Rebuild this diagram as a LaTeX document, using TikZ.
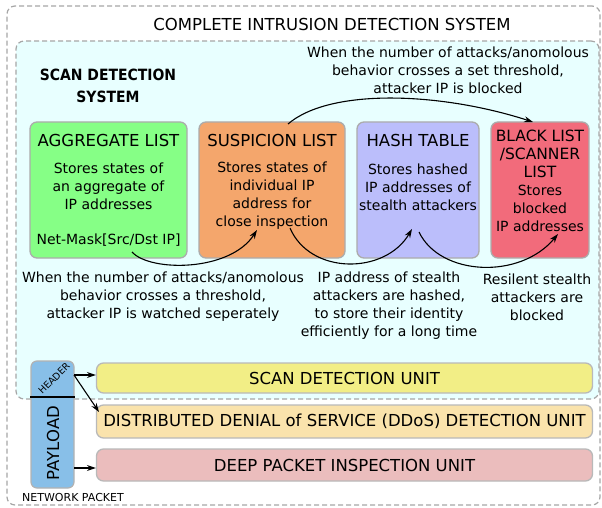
\documentclass[tikz,border=0pt]{standalone}
\usepackage{fontspec}
\setmainfont{DejaVu Sans}
\newfontfamily\condfont{DejaVu Sans Condensed}
\usetikzlibrary{arrows.meta,positioning}
\definecolor{idsfill}{HTML}{E8FFFF}
\definecolor{aggcol}{HTML}{86FF86}
\definecolor{suscol}{HTML}{F4A66C}
\definecolor{hashcol}{HTML}{BBBEFB}
\definecolor{blkcol}{HTML}{F26B7B}
\definecolor{pktcol}{HTML}{88BFE8}
\definecolor{scancol}{HTML}{F2EE86}
\definecolor{ddoscol}{HTML}{FAE3AC}
\definecolor{dpicol}{HTML}{EBBDBD}
\tikzset{
  dashframe/.style={draw=gray!70,dash pattern=on 5pt off 3pt,line width=1.2pt,rounded corners=8pt},
  listbox/.style={draw=gray!65,line width=1.3pt,rounded corners=7pt,minimum height=136pt},
  unitbox/.style={draw=gray!55,line width=1.3pt,rounded corners=7pt,minimum width=496pt,font=\fontsize{16.5}{19}\selectfont},
  headtext/.style={font=\fontsize{16.5}{19}\selectfont,inner sep=0pt},
  bodytext/.style={font=\fontsize{14}{18}\selectfont,align=center,inner sep=0pt},
  flow/.style={->,line width=1.1pt}
}

\begin{document}
\begin{tikzpicture}[x=1pt,y=-1pt,>={Stealth[length=9pt,width=6pt]}]
  \useasboundingbox (0,0) rectangle (602,508);
  % frames
  \node[dashframe,minimum width=593pt,minimum height=499pt] (ids) at (303.5,255.5) {};
  \node[dashframe,fill=idsfill,minimum width=583pt,minimum height=358pt] (sds) at (307.5,220) {};
  \node[headtext] (idsT) at (332,24) {COMPLETE INTRUSION DETECTION SYSTEM};
  \node[font=\condfont\bfseries\fontsize{15.5}{22}\selectfont,align=center,inner sep=0pt] (sdsT) at (108,86) {SCAN DETECTION\\SYSTEM};

  % lists
  \node[listbox,fill=aggcol,minimum width=157pt] (agg) at (108.5,190) {};
  \node[listbox,fill=suscol,minimum width=146pt] (sus) at (272,190) {};
  \node[listbox,fill=hashcol,minimum width=122pt] (hash) at (418,190) {};
  \node[listbox,fill=blkcol,minimum width=98pt] (blk) at (540,190) {};

  \node[headtext] (aggT) at (108.5,140) {AGGREGATE LIST};
  \node[bodytext] (aggB) at (108.5,186) {Stores states of\\an aggregate of\\IP addresses};
  \node[bodytext] (aggM) at (108.5,240) {Net-Mask[Src/Dst IP]};
  \node[headtext] (susT) at (272,140) {SUSPICION LIST};
  \node[bodytext] (susB) at (272,196) {Stores states of\\individual IP\\address for\\close inspection};
  \node[headtext] (hashT) at (418,140) {HASH TABLE};
  \node[bodytext] (hashB) at (418,187) {Stores hashed\\IP addresses of\\stealth attackers};
  \node[bodytext] (blkB) at (540,181) {{\fontsize{15.5}{19}\selectfont BLACK LIST}\\{\fontsize{15.5}{19}\selectfont/SCANNER}\\{\fontsize{15.5}{19}\selectfont LIST}\\Stores\\blocked\\IP addresses};

  % notes
  \node[bodytext] (blockNote) at (448,70) {When the number of attacks/anomolous\\behavior crosses a set threshold,\\attacker IP is blocked};
  \node[bodytext] (watchNote) at (163,297) {When the number of attacks/anomolous\\behavior crosses a threshold,\\attacker IP is watched seperately};
  \node[bodytext] (hashNote) at (389,305.5) {IP address of stealth\\attackers are hashed,\\to store their identity\\efficiently for a long time};
  \node[bodytext] (resNote) at (537,297) {Resilent stealth\\attackers are\\blocked};

  % transitions
  \coordinate (susTop) at (288,124);
  \coordinate (blkTop) at (533,122);
  \coordinate (aggOut) at (132,252);
  \coordinate (susIn) at (257,230);
  \coordinate (susOut) at (290,228);
  \coordinate (hashIn) at (412,229);
  \coordinate (hashOut) at (419,232);
  \coordinate (blkIn) at (558,234);
  \draw[flow] (susTop) .. controls (330,88) and (440,92) .. (blkTop);
  \draw[flow] (aggOut) .. controls (150,272) and (230,272) .. (susIn);
  \draw[flow] (susOut) .. controls (310,275) and (385,275) .. (hashIn);
  \draw[flow] (hashOut) .. controls (440,276) and (520,280) .. (blkIn);

  % packet and units
  \node[unitbox,fill=scancol,minimum height=30pt] (scan) at (344.5,378) {SCAN DETECTION UNIT};
  \node[unitbox,fill=ddoscol,minimum height=33pt] (ddos) at (344.5,421.5) {DISTRIBUTED DENIAL of SERVICE (DDoS) DETECTION UNIT};
  \node[unitbox,fill=dpicol,minimum height=32pt] (dpi) at (344.5,465) {DEEP PACKET INSPECTION UNIT};

  \node[draw=gray!60,line width=1.2pt,fill=pktcol,rounded corners=6pt,minimum width=43pt,minimum height=127pt] (pkt) at (52.5,424.5) {};
  \draw[line width=1.2pt] (pkt.west |- 0,397) -- (pkt.east |- 0,397);
  \node[rotate=45,font=\fontsize{9.5}{11}\selectfont,inner sep=0pt] (hdr) at (54,378.5) {HEADER};
  \node[rotate=90,font=\fontsize{16.5}{19}\selectfont,inner sep=0pt] (pay) at (53,443) {PAYLOAD};
  \node[font=\fontsize{11}{13}\selectfont,inner sep=0pt] (pktT) at (73,497) {NETWORK PACKET};

  \coordinate (hdrOut) at (74,375);
  \coordinate (payOut) at (74,468);
  \draw[flow] (hdrOut) -- (scan.west |- hdrOut);
  \draw[flow] (hdrOut) -- (99,412);
  \draw[flow] (payOut) -- (dpi.west |- payOut);
\end{tikzpicture}
\end{document}
